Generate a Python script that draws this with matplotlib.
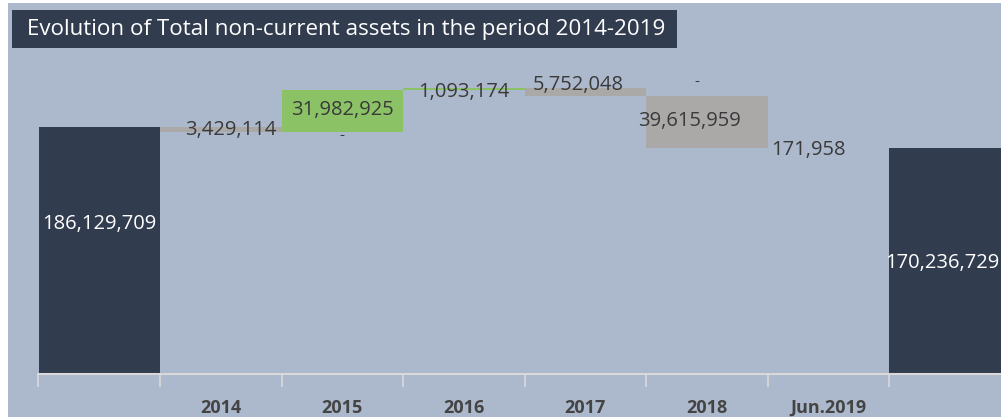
import matplotlib
matplotlib.use("Agg")
import matplotlib.pyplot as plt
from matplotlib.patches import Rectangle

categories = ["", "2014", "2015", "2016", "2017", "2018", "Jun.2019", ""]
start_value = 186129709
deltas = [-3429114, 31982925, 1093174, -5752048, -39615959, -171958]
end_value = 170236729
title = "Evolution of Total non-current assets in the period 2014-2019"

BG = "#acb8cb"
DARK = "#323c4f"
GREEN = "#8bc265"
GRAY = "#aba8a8"
TXT = "#3a3a3a"
FONT = ["Open Sans", "DejaVu Sans"]

W, H = 1001, 417
fig = plt.figure(figsize=(W / 100, H / 100), dpi=100, facecolor="white")
fig.patches.append(Rectangle((8 / W, 0), 1, 1 - 3 / H, transform=fig.transFigure,
                             facecolor=BG, edgecolor="none", zorder=-5))

ax_left, ax_right_px = 38.5, 38.5 + 8 * 121.5
ax_bot_px, ax_top_px = 374, 56
ax = fig.add_axes([ax_left / W, (H - ax_bot_px) / H, (ax_right_px - ax_left) / W,
                   (ax_bot_px - ax_top_px) / H])
ax.set_zorder(1)
ax.set_facecolor("none")
ax.set_xlim(-0.5, 7.5)
ax.set_ylim(0, 240e6)

def fmt(v):
    return f"{abs(v):,.0f}"

# start and end totals
ax.bar(0, start_value, width=1.0, color=DARK, zorder=2)
ax.bar(7, end_value, width=1.0, color=DARK, zorder=2)

running = start_value
bottoms, heights, colors = [], [], []
for d in deltas:
    if d >= 0:
        bottoms.append(running); heights.append(d); colors.append(GREEN)
    else:
        bottoms.append(running + d); heights.append(-d); colors.append(GRAY)
    running += d
xs = list(range(1, 7))
ax.bar(xs, heights, bottom=bottoms, width=1.0, color=colors, zorder=2)

# labels
kw = dict(fontsize=14.5, color=TXT, family=FONT, ha="center", va="center", zorder=5)
px = 240e6 / (ax_bot_px - ax_top_px)  # value per pixel
label_offsets = [(0.08, -0.5), (0.0, 0.5), (0.0, -3.5), (-0.06, 6.5), (-0.14, 0.5), (-0.16, -1.5)]
for i, (x, b, h, d) in enumerate(zip(xs, bottoms, heights, deltas)):
    dx, dy = label_offsets[i]
    ax.text(x + dx, b + h / 2 + dy * px, fmt(d), **kw)

ax.text(0, start_value * 0.61, fmt(start_value), **{**kw, "color": "white"})
ax.text(7 - 0.06, end_value * 0.49, fmt(end_value), **{**kw, "color": "white"})
# zero-value placeholders
ax.text(2, bottoms[1] - 4 * px, "-", **{**kw, "fontsize": 11})
ax.text(4.92, bottoms[4] + heights[4] + 14 * px, "-", **{**kw, "fontsize": 11})

# axes styling
for s in ["left", "right", "top"]:
    ax.spines[s].set_visible(False)
ax.spines["bottom"].set_color("#d9d9d9")
ax.spines["bottom"].set_linewidth(1.5)
ax.set_yticks([])
ax.set_xticks([i - 0.5 for i in range(8)], minor=False)
ax.set_xticklabels([])
ax.tick_params(axis="x", which="major", length=9, color="#d9d9d9", width=1.2)
ax.set_xticks(range(8), minor=True)
ax.set_xticklabels(categories, minor=True, fontsize=13, fontweight="bold",
                   color="#444444", family=FONT)
ax.tick_params(axis="x", which="minor", length=0, pad=18)

# title box
fig.patches.append(Rectangle((12 / W, 1 - 48 / H), (677 - 12) / W, 38 / H,
                             transform=fig.transFigure, facecolor=DARK,
                             edgecolor="none", zorder=3))
fig.text(27 / W, 1 - 29 / H, title, color="white", fontsize=16.1, family=FONT,
         ha="left", va="center", zorder=4)

fig.savefig("out.png", dpi=100, facecolor=fig.get_facecolor())
